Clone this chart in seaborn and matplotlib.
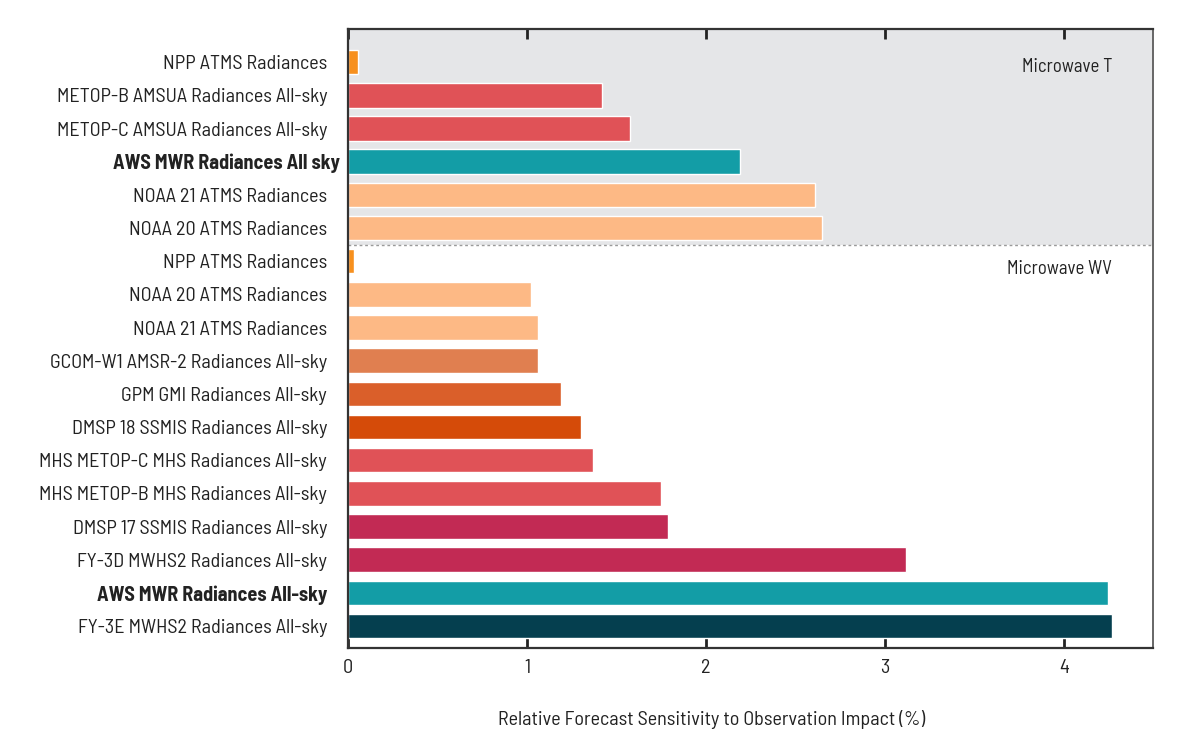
import matplotlib
matplotlib.use("Agg")
import matplotlib.pyplot as plt
import seaborn as sns
import pandas as pd

labels = [
    "NPP ATMS Radiances",
    "METOP-B AMSUA Radiances All-sky",
    "METOP-C AMSUA Radiances All-sky",
    "AWS MWR Radiances All sky",
    "NOAA 21 ATMS Radiances",
    "NOAA 20 ATMS Radiances",
    "NPP ATMS Radiances",
    "NOAA 20 ATMS Radiances",
    "NOAA 21 ATMS Radiances",
    "GCOM-W1 AMSR-2 Radiances All-sky",
    "GPM GMI Radiances All-sky",
    "DMSP 18 SSMIS Radiances All-sky",
    "MHS METOP-C MHS Radiances All-sky",
    "MHS METOP-B MHS Radiances All-sky",
    "DMSP 17 SSMIS Radiances All-sky",
    "FY-3D MWHS2 Radiances All-sky",
    "AWS MWR Radiances All-sky",
    "FY-3E MWHS2 Radiances All-sky",
]
values = [0.056, 1.42, 1.575, 2.19, 2.61, 2.65,
          0.034, 1.02, 1.06, 1.06, 1.19, 1.30, 1.37, 1.75, 1.79, 3.12, 4.25, 4.27]
colors = ["#F7901E", "#E05257", "#E05257", "#139DA6", "#FDB985", "#FDB985",
          "#F7901E", "#FDB985", "#FDB985", "#E07F50", "#DA5F2A", "#D54B09",
          "#E05257", "#E05257", "#C22A54", "#C22A54", "#139DA6", "#053F4F"]
bold_rows = [3, 16]
group_labels = ["Microwave T", "Microwave WV"]
xticks = [0, 1, 2, 3, 4]

sns.set_style("white")
plt.rcParams['font.family'] = ['Barlow Semi Condensed', 'Asap Condensed', 'DejaVu Sans']

df = pd.DataFrame({"row": [str(i) for i in range(len(labels))], "value": values})

fig = plt.figure(figsize=(12, 7.34), dpi=100)
ax = fig.add_axes([0.29, 0.1172, 0.671, 0.8433])

ax.axhspan(-1, 5.5, color="#E5E6E8", zorder=0, lw=0)
ax.axhline(5.5, color="#9A9A9A", lw=1, ls=(0, (2, 2)), zorder=1)

sns.barplot(data=df, x="value", y="row", hue="row", palette=colors, legend=False,
            orient="h", width=0.74, ax=ax, zorder=2, saturation=1)

ax.set_xlim(0, 4.5)
ax.set_ylim(17.66, -1.0)
ax.set_xticks(xticks)
ax.set_xticklabels([str(t) for t in xticks], fontsize=14.5, color="#222222")
ax.set_yticks(range(len(labels)))
ax.set_yticklabels(labels, fontsize=14.5, color="#222222")
ax.tick_params(axis="y", length=0, pad=15)
ax.tick_params(axis="x", direction="in", length=7, width=2, color="#222222",
               top=True, bottom=True, pad=8)
for i, t in enumerate(ax.get_yticklabels()):
    if i in bold_rows:
        t.set_fontweight("bold")
yt = ax.yaxis.get_major_ticks()
yt[3].set_pad(5.5)

ax.set_xlabel("Relative Forecast Sensitivity to Observation Impact (%)", fontsize=14.5,
              color="#222222", labelpad=24, x=0.452)
ax.set_ylabel("")

for s in ["left", "bottom", "top"]:
    ax.spines[s].set_color("#333333")
    ax.spines[s].set_linewidth(1.6)
ax.spines["right"].set_color("#666666")
ax.spines["right"].set_linewidth(1.4)

ax.text(4.27, 0.15, group_labels[0], ha="right", va="center", fontsize=13.5, color="#222222")
ax.text(4.27, 6.25, group_labels[1], ha="right", va="center", fontsize=13.5, color="#222222")

fig.savefig("out.png", dpi=100, facecolor="white")
